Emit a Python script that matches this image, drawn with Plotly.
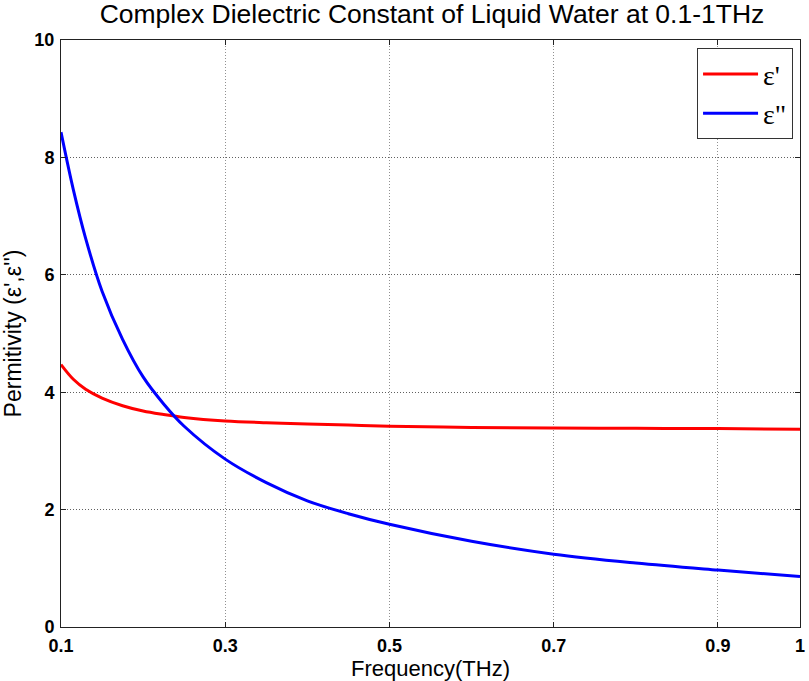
import plotly.graph_objects as go

# Frequency samples (THz)
freq = [0.10, 0.115, 0.13, 0.15, 0.175, 0.20, 0.225, 0.25, 0.30, 0.35,
        0.40, 0.45, 0.50, 0.60, 0.70, 0.80, 0.90, 1.00]
# Real part of permittivity
eps_real = [4.47, 4.22, 4.05, 3.90, 3.77, 3.68, 3.62, 3.57, 3.51, 3.48,
            3.46, 3.44, 3.42, 3.40, 3.39, 3.385, 3.38, 3.37]
# Imaginary part of permittivity
eps_imag = [8.43, 7.45, 6.62, 5.72, 4.90, 4.26, 3.80, 3.42, 2.86, 2.46,
            2.15, 1.93, 1.75, 1.46, 1.24, 1.09, 0.97, 0.86]

x_ticks = [0.1, 0.3, 0.5, 0.7, 0.9, 1.0]
x_ticktext = ["0.1", "0.3", "0.5", "0.7", "0.9", "1"]
y_ticks = [0, 2, 4, 6, 8, 10]

SANS = "Liberation Sans, Arial, sans-serif"

fig = go.Figure()
fig.add_trace(go.Scatter(x=freq, y=eps_real, mode="lines", name="ε'",
                         line=dict(color="#ff0000", width=3, shape="spline")))
fig.add_trace(go.Scatter(x=freq, y=eps_imag, mode="lines", name='ε"',
                         line=dict(color="#0000ff", width=3, shape="spline")))

tick_font = dict(family=SANS, size=18, color="black", weight="bold")

fig.update_layout(
    width=809, height=681,
    margin=dict(l=61, r=4, t=40, b=54),
    paper_bgcolor="white", plot_bgcolor="white",
    title=dict(text="Complex Dielectric Constant of Liquid Water at 0.1-1THz",
               x=0.534, xanchor="center", yref="container", y=1 - 14 / 681,
               yanchor="middle",
               font=dict(family=SANS, size=26.5, color="black")),
    xaxis=dict(range=[0.1, 1.0], tickvals=x_ticks, ticktext=x_ticktext,
               showgrid=True, gridcolor="#909090", griddash="1px,2px", gridwidth=1,
               showline=True, linecolor="#222222", linewidth=1, mirror="ticks",
               ticks="inside", ticklen=5, tickcolor="#222222",
               zeroline=False, tickfont=tick_font, ticklabelstandoff=2,
               ticklabeloverflow="allow",
               title=dict(text="Frequency(THz)", standoff=4,
                          font=dict(family=SANS, size=22, color="black"))),
    yaxis=dict(range=[0, 10], tickvals=y_ticks,
               showgrid=True, gridcolor="#606060", griddash="1px,2px", gridwidth=1,
               showline=True, linecolor="#222222", linewidth=1, mirror="ticks",
               ticks="inside", ticklen=5, tickcolor="#222222",
               zeroline=False, tickfont=tick_font, ticklabelstandoff=2,
               title=dict(text="Permitivity (ε',ε'')", standoff=8,
                          font=dict(family=SANS, size=23, color="black"))),
    legend=dict(x=0.9906, y=0.986, xanchor="right", yanchor="top",
                bgcolor="white", bordercolor="#333333", borderwidth=1,
                itemwidth=55,
                font=dict(family="Liberation Serif, Times New Roman, serif", size=28,
                          color="black")),
    showlegend=True,
)

fig.write_html("out.html")
